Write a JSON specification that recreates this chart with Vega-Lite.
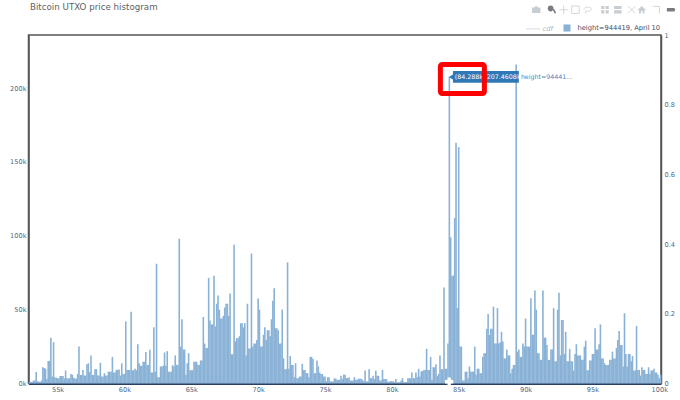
{
  "$schema": "https://vega.github.io/schema/vega-lite/v6.json",
  "autosize": "none",
  "padding": {"left": 28.5, "top": 35, "right": 18.5, "bottom": 16.5},
  "width": 632.5,
  "height": 348.5,
  "background": "#ffffff",
  "title": {
    "text": "Bitcoin UTXO price histogram",
    "anchor": "start",
    "frame": "group",
    "dx": 1.5,
    "offset": -8,
    "font": "DejaVu Sans",
    "fontSize": 8.7,
    "fontWeight": "normal",
    "color": "#5a5f66"
  },
  "config": {
    "view": {"stroke": "#555555", "strokeWidth": 1.5},
    "font": "DejaVu Sans"
  },
  "datasets": {
    "bars": [
      {"p":52900,"n":1000},{"p":53000,"n":1200},{"p":53100,"n":1000},{"p":53200,"n":2000},{"p":53300,"n":2000},{"p":53400,"n":7700},{"p":53500,"n":1500},{"p":53600,"n":1300},{"p":53700,"n":1000},{"p":53800,"n":2000},
      {"p":53900,"n":11000},{"p":54000,"n":10500},{"p":54100,"n":10000},{"p":54200,"n":3000},{"p":54300,"n":15300},{"p":54400,"n":15300},{"p":54500,"n":31000},{"p":54600,"n":4700},{"p":54700,"n":28000},{"p":54800,"n":4000},
      {"p":54900,"n":4000},{"p":55000,"n":3600},{"p":55100,"n":3600},{"p":55200,"n":5000},{"p":55300,"n":5000},{"p":55400,"n":5000},{"p":55500,"n":3500},{"p":55600,"n":8800},{"p":55700,"n":3500},{"p":55800,"n":3500},
      {"p":55900,"n":3500},{"p":56000,"n":6500},{"p":56100,"n":6000},{"p":56200,"n":4000},{"p":56300,"n":3300},{"p":56400,"n":3300},{"p":56500,"n":6500},{"p":56600,"n":25000},{"p":56700,"n":5800},{"p":56800,"n":5800},
      {"p":56900,"n":9200},{"p":57000,"n":5400},{"p":57100,"n":5400},{"p":57200,"n":13000},{"p":57300,"n":13700},{"p":57400,"n":7700},{"p":57500,"n":19000},{"p":57600,"n":5800},{"p":57700,"n":5800},{"p":57800,"n":9700},
      {"p":57900,"n":9700},{"p":58000,"n":5400},{"p":58100,"n":5400},{"p":58200,"n":14000},{"p":58300,"n":4700},{"p":58400,"n":4700},{"p":58500,"n":7000},{"p":58600,"n":5400},{"p":58700,"n":5400},{"p":58800,"n":8000},
      {"p":58900,"n":8000},{"p":59000,"n":8000},{"p":59100,"n":18000},{"p":59200,"n":7400},{"p":59300,"n":7400},{"p":59400,"n":9200},{"p":59500,"n":9200},{"p":59600,"n":9500},{"p":59700,"n":5400},{"p":59800,"n":13700},
      {"p":59900,"n":6500},{"p":60000,"n":6500},{"p":60100,"n":42000},{"p":60200,"n":9200},{"p":60300,"n":9200},{"p":60400,"n":9200},{"p":60500,"n":48500},{"p":60600,"n":9000},{"p":60700,"n":9000},{"p":60800,"n":10000},
      {"p":60900,"n":9000},{"p":61000,"n":26600},{"p":61100,"n":13700},{"p":61200,"n":12000},{"p":61300,"n":12000},{"p":61400,"n":14700},{"p":61500,"n":14700},{"p":61600,"n":21400},{"p":61700,"n":12600},{"p":61800,"n":12600},
      {"p":61900,"n":22800},{"p":62000,"n":7400},{"p":62100,"n":7400},{"p":62200,"n":38000},{"p":62300,"n":8000},{"p":62400,"n":81000},{"p":62500,"n":4300},{"p":62600,"n":4300},{"p":62700,"n":11500},{"p":62800,"n":11500},
      {"p":62900,"n":12000},{"p":63000,"n":21000},{"p":63100,"n":12000},{"p":63200,"n":21900},{"p":63300,"n":8000},{"p":63400,"n":8000},{"p":63500,"n":8000},{"p":63600,"n":12400},{"p":63700,"n":11500},{"p":63800,"n":19000},
      {"p":63900,"n":12600},{"p":64000,"n":12600},{"p":64100,"n":98000},{"p":64200,"n":25000},{"p":64300,"n":43500},{"p":64400,"n":23000},{"p":64500,"n":23000},{"p":64600,"n":6000},{"p":64700,"n":13700},{"p":64800,"n":20500},
      {"p":64900,"n":9000},{"p":65000,"n":9000},{"p":65100,"n":9000},{"p":65200,"n":14700},{"p":65300,"n":14700},{"p":65400,"n":14700},{"p":65500,"n":12600},{"p":65600,"n":12600},{"p":65700,"n":15600},{"p":65800,"n":15600},
      {"p":65900,"n":45000},{"p":66000,"n":27000},{"p":66100,"n":24000},{"p":66200,"n":24000},{"p":66300,"n":71500},{"p":66400,"n":42600},{"p":66500,"n":40000},{"p":66600,"n":40000},{"p":66700,"n":73000},{"p":66800,"n":38600},
      {"p":66900,"n":54000},{"p":67000,"n":59500},{"p":67100,"n":50000},{"p":67200,"n":44000},{"p":67300,"n":44000},{"p":67400,"n":45800},{"p":67500,"n":51400},{"p":67600,"n":54000},{"p":67700,"n":54000},{"p":67800,"n":45800},
      {"p":67900,"n":61000},{"p":68000,"n":19800},{"p":68100,"n":19800},{"p":68200,"n":94000},{"p":68300,"n":28600},{"p":68400,"n":30700},{"p":68500,"n":30700},{"p":68600,"n":32000},{"p":68700,"n":40800},{"p":68800,"n":40800},
      {"p":68900,"n":38000},{"p":69000,"n":40800},{"p":69100,"n":19000},{"p":69200,"n":54000},{"p":69300,"n":23700},{"p":69400,"n":23700},{"p":69500,"n":88000},{"p":69600,"n":25000},{"p":69700,"n":27000},{"p":69800,"n":27000},
      {"p":69900,"n":29500},{"p":70000,"n":57500},{"p":70100,"n":50000},{"p":70200,"n":25000},{"p":70300,"n":25000},{"p":70400,"n":33000},{"p":70500,"n":38000},{"p":70600,"n":29500},{"p":70700,"n":36000},{"p":70800,"n":36000},
      {"p":70900,"n":32000},{"p":71000,"n":43500},{"p":71100,"n":56000},{"p":71200,"n":64500},{"p":71300,"n":37400},{"p":71400,"n":37400},{"p":71500,"n":36000},{"p":71600,"n":27000},{"p":71700,"n":27000},{"p":71800,"n":50000},
      {"p":71900,"n":17000},{"p":72000,"n":9700},{"p":72100,"n":9700},{"p":72200,"n":82000},{"p":72300,"n":10000},{"p":72400,"n":18700},{"p":72500,"n":12600},{"p":72600,"n":12600},{"p":72700,"n":4300},{"p":72800,"n":13700},
      {"p":72900,"n":3600},{"p":73000,"n":3600},{"p":73100,"n":4700},{"p":73200,"n":4700},{"p":73300,"n":13300},{"p":73400,"n":9200},{"p":73500,"n":9200},{"p":73600,"n":7000},{"p":73700,"n":7000},{"p":73800,"n":4300},
      {"p":73900,"n":18000},{"p":74000,"n":18000},{"p":74100,"n":16500},{"p":74200,"n":7000},{"p":74300,"n":7000},{"p":74400,"n":15600},{"p":74500,"n":11500},{"p":74600,"n":7400},{"p":74700,"n":6500},{"p":74800,"n":6500},
      {"p":74900,"n":4700},{"p":75000,"n":4700},{"p":75100,"n":1400},{"p":75200,"n":4300},{"p":75300,"n":4300},{"p":75400,"n":1400},{"p":75500,"n":1400},{"p":75600,"n":1400},{"p":75700,"n":3400},{"p":75800,"n":3400},
      {"p":75900,"n":2500},{"p":76000,"n":2500},{"p":76100,"n":2500},{"p":76200,"n":5200},{"p":76300,"n":3000},{"p":76400,"n":6000},{"p":76500,"n":6000},{"p":76600,"n":3600},{"p":76700,"n":3600},{"p":76800,"n":4300},
      {"p":76900,"n":2000},{"p":77000,"n":2000},{"p":77100,"n":2000},{"p":77200,"n":4300},{"p":77300,"n":2500},{"p":77400,"n":2500},{"p":77500,"n":3200},{"p":77600,"n":3200},{"p":77700,"n":3200},{"p":77800,"n":2500},
      {"p":77900,"n":1500},{"p":78000,"n":8800},{"p":78100,"n":1400},{"p":78200,"n":1400},{"p":78300,"n":9700},{"p":78400,"n":3600},{"p":78500,"n":3600},{"p":78600,"n":5200},{"p":78700,"n":3000},{"p":78800,"n":8600},
      {"p":78900,"n":5200},{"p":79000,"n":5200},{"p":79100,"n":2000},{"p":79200,"n":2000},{"p":79300,"n":9200},{"p":79400,"n":3000},{"p":79500,"n":3000},{"p":79600,"n":3000},{"p":79700,"n":1100},{"p":79800,"n":1100},
      {"p":79900,"n":1600},{"p":80000,"n":1600},{"p":80100,"n":1600},{"p":80200,"n":700},{"p":80300,"n":3000},{"p":80400,"n":700},{"p":80500,"n":700},{"p":80600,"n":700},{"p":80700,"n":2000},{"p":80800,"n":3600},
      {"p":80900,"n":900},{"p":81000,"n":900},{"p":81100,"n":900},{"p":81200,"n":3600},{"p":81300,"n":3600},{"p":81400,"n":3600},{"p":81500,"n":7400},{"p":81600,"n":3600},{"p":81700,"n":3600},{"p":81800,"n":7400},
      {"p":81900,"n":4300},{"p":82000,"n":10000},{"p":82100,"n":4700},{"p":82200,"n":8300},{"p":82300,"n":8300},{"p":82400,"n":9200},{"p":82500,"n":9200},{"p":82600,"n":23500},{"p":82700,"n":9200},{"p":82800,"n":9200},
      {"p":82900,"n":18000},{"p":83000,"n":2500},{"p":83100,"n":11000},{"p":83200,"n":11000},{"p":83300,"n":13000},{"p":83400,"n":5200},{"p":83500,"n":6500},{"p":83600,"n":19000},{"p":83700,"n":9700},{"p":83800,"n":9700},
      {"p":83900,"n":65000},{"p":84000,"n":10000},{"p":84100,"n":10000},{"p":84200,"n":27000},{"p":84300,"n":207461},{"p":84400,"n":99000},{"p":84500,"n":73000},{"p":84600,"n":73000},{"p":84700,"n":112000},{"p":84800,"n":163000},
      {"p":84900,"n":51000},{"p":85000,"n":160000},{"p":85100,"n":25000},{"p":85200,"n":25000},{"p":85300,"n":2000},{"p":85400,"n":2000},{"p":85500,"n":8000},{"p":85600,"n":8000},{"p":85700,"n":3600},{"p":85800,"n":11500},
      {"p":85900,"n":8000},{"p":86000,"n":8000},{"p":86100,"n":8000},{"p":86200,"n":25000},{"p":86300,"n":6000},{"p":86400,"n":10000},{"p":86500,"n":10000},{"p":86600,"n":7000},{"p":86700,"n":7000},{"p":86800,"n":18000},
      {"p":86900,"n":20500},{"p":87000,"n":20500},{"p":87100,"n":37000},{"p":87200,"n":47000},{"p":87300,"n":33000},{"p":87400,"n":37000},{"p":87500,"n":37000},{"p":87600,"n":52000},{"p":87700,"n":27000},{"p":87800,"n":27000},
      {"p":87900,"n":51000},{"p":88000,"n":27000},{"p":88100,"n":28000},{"p":88200,"n":35000},{"p":88300,"n":28400},{"p":88400,"n":17000},{"p":88500,"n":17000},{"p":88600,"n":23000},{"p":88700,"n":19000},{"p":88800,"n":19000},
      {"p":88900,"n":7000},{"p":89000,"n":10000},{"p":89100,"n":12600},{"p":89200,"n":12600},{"p":89300,"n":216000},{"p":89400,"n":21600},{"p":89500,"n":23000},{"p":89600,"n":18000},{"p":89700,"n":18000},{"p":89800,"n":27000},
      {"p":89900,"n":25000},{"p":90000,"n":44000},{"p":90100,"n":25000},{"p":90200,"n":25000},{"p":90300,"n":25000},{"p":90400,"n":57700},{"p":90500,"n":33000},{"p":90600,"n":33000},{"p":90700,"n":63000},{"p":90800,"n":50000},
      {"p":90900,"n":20500},{"p":91000,"n":20500},{"p":91100,"n":16000},{"p":91200,"n":16000},{"p":91300,"n":63000},{"p":91400,"n":31000},{"p":91500,"n":31000},{"p":91600,"n":26000},{"p":91700,"n":16000},{"p":91800,"n":16000},
      {"p":91900,"n":23000},{"p":92000,"n":23000},{"p":92100,"n":51000},{"p":92200,"n":15000},{"p":92300,"n":15000},{"p":92400,"n":50000},{"p":92500,"n":61500},{"p":92600,"n":19000},{"p":92700,"n":43000},{"p":92800,"n":43000},
      {"p":92900,"n":20000},{"p":93000,"n":35000},{"p":93100,"n":15000},{"p":93200,"n":15000},{"p":93300,"n":23500},{"p":93400,"n":15000},{"p":93500,"n":15000},{"p":93600,"n":8800},{"p":93700,"n":20000},{"p":93800,"n":26600},
      {"p":93900,"n":19000},{"p":94000,"n":19000},{"p":94100,"n":19000},{"p":94200,"n":16000},{"p":94300,"n":16000},{"p":94400,"n":25000},{"p":94500,"n":29000},{"p":94600,"n":9000},{"p":94700,"n":9000},{"p":94800,"n":15600},
      {"p":94900,"n":15600},{"p":95000,"n":20000},{"p":95100,"n":20000},{"p":95200,"n":37400},{"p":95300,"n":23000},{"p":95400,"n":23000},{"p":95500,"n":26600},{"p":95600,"n":40000},{"p":95700,"n":17000},{"p":95800,"n":17000},
      {"p":95900,"n":13700},{"p":96000,"n":12600},{"p":96100,"n":12600},{"p":96200,"n":12600},{"p":96300,"n":16000},{"p":96400,"n":16000},{"p":96500,"n":21600},{"p":96600,"n":17000},{"p":96700,"n":17000},{"p":96800,"n":24000},
      {"p":96900,"n":29500},{"p":97000,"n":35600},{"p":97100,"n":26000},{"p":97200,"n":26000},{"p":97300,"n":11500},{"p":97400,"n":47600},{"p":97500,"n":20000},{"p":97600,"n":11500},{"p":97700,"n":20000},{"p":97800,"n":20000},
      {"p":97900,"n":15000},{"p":98000,"n":18700},{"p":98100,"n":8800},{"p":98200,"n":8800},{"p":98300,"n":39000},{"p":98400,"n":9200},{"p":98500,"n":9200},{"p":98600,"n":5400},{"p":98700,"n":11000},{"p":98800,"n":9200},
      {"p":98900,"n":9200},{"p":99000,"n":6500},{"p":99100,"n":6500},{"p":99200,"n":11000},{"p":99300,"n":6500},{"p":99400,"n":8800},{"p":99500,"n":8800},{"p":99600,"n":10000},{"p":99700,"n":7400},{"p":99800,"n":7400},
      {"p":99900,"n":5900},{"p":100000,"n":3600},{"p":100100,"n":6000}
    ],
    "cdf": [{"p":52900,"c":0},{"p":100100,"c":1}],
    "icons": [
      {"p":90800,"n":253000,"icon":"camera","group":"solid"},
      {"p":91970,"n":253000,"icon":"zoom","group":"dark"},
      {"p":92850,"n":253000,"icon":"pan","group":"line"},
      {"p":93730,"n":253000,"icon":"box","group":"line"},
      {"p":94650,"n":253000,"icon":"lasso","group":"line"},
      {"p":95940,"n":253000,"icon":"zoomin","group":"solid"},
      {"p":96900,"n":253000,"icon":"zoomout","group":"solid"},
      {"p":97940,"n":253000,"icon":"autoscale","group":"line"},
      {"p":98690,"n":253000,"icon":"home","group":"solid"},
      {"p":99830,"n":253000,"icon":"spikes","group":"line"},
      {"p":100880,"n":253000,"icon":"hover","group":"dark"}
    ],
    "hoverbox": [{"p":84570,"p2":89500,"n":203500,"n2":211600}],
    "hoverpoint": [{"p":84430,"n":207461}],
    "hovertext": [{"p":84700,"n":207461,"t":"(84.288k, 207.4608k)"}],
    "hovername": [{"p":89650,"n":207461,"t":"height=94441..."}],
    "spike": [{"p":84288,"n":1200}],
    "callout": [{"p":83630,"p2":86920,"n":196300,"n2":216000}]
  },
  "layer": [
    {
      "encoding": {
        "x": {
          "field": "p",
          "type": "quantitative",
          "scale": {"domain": [52825, 100130], "nice": false, "zero": false, "padding": 0},
          "title": null,
          "axis": {
            "values": [55000, 60000, 65000, 70000, 75000, 80000, 85000, 90000, 95000, 100000],
            "format": "~s",
            "grid": false,
            "ticks": false,
            "labelPadding": 3,
            "labelFontSize": 6.6,
            "labelColor": "#506784",
            "labelFont": "DejaVu Sans",
            "domainColor": "#2a3f5f",
            "domainWidth": 2
          }
        },
        "y": {
          "field": "n",
          "type": "quantitative",
          "stack": null,
          "scale": {"domain": [0, 235900], "nice": false},
          "title": null,
          "axis": {
            "values": [0, 50000, 100000, 150000, 200000],
            "format": "~s",
            "grid": false,
            "ticks": false,
            "labelPadding": 2.5,
            "labelFontSize": 6.6,
            "labelColor": "#506784",
            "labelFont": "DejaVu Sans",
            "domainColor": "#555555",
            "domainWidth": 1.5
          }
        }
      },
      "layer": [
        {
          "data": {"name": "bars"},
          "mark": {"type": "bar", "orient": "vertical", "size": 1.6},
          "encoding": {
            "color": {
              "datum": "height=944419, April 10",
              "type": "nominal",
              "scale": {
                "domain": ["cdf", "height=944419, April 10"],
                "range": ["#d5dbe0", "#8ab2d6"]
              },
              "legend": {
                "title": null,
                "orient": "none",
                "direction": "horizontal",
                "legendX": 499,
                "legendY": -12,
                "labelFont": "DejaVu Sans",
                "labelFontSize": 6.7,
                "labelColor": "#3f4a63",
                "symbolSize": 50,
                "columnPadding": 7,
                "labelOffset": 6,
                "encode": {
                  "symbols": {"update": {
                    "shape": {"signal": "datum.value == 'cdf' ? 'M-1.7,0H2.4' : 'square'"},
                    "stroke": {"signal": "datum.value == 'cdf' ? '#d5dbe0' : 'transparent'"},
                    "strokeWidth": {"value": 1}
                  }},
                  "labels": {"update": {
                    "fontStyle": {"signal": "datum.value == 'cdf' ? 'italic' : 'normal'"},
                    "fill": {"signal": "datum.value == 'cdf' ? '#aeb4bb' : '#3f4a63'"}
                  }}
                }
              }
            }
          }
        },
        {"data": {"name": "spike"}, "mark": {"type": "point", "shape": "cross", "filled": true, "color": "#ffffff", "size": 70, "opacity": 1}},
        {"data": {"name": "hoverbox"}, "mark": {"type": "rect", "color": "#2f78b7"}, "encoding": {"x2": {"field": "p2"}, "y2": {"field": "n2"}}},
        {"data": {"name": "hoverpoint"}, "mark": {"type": "point", "shape": "triangle-left", "filled": true, "color": "#2f78b7", "size": 30, "opacity": 1}},
        {"data": {"name": "hovertext"}, "mark": {"type": "text", "align": "left", "baseline": "middle", "font": "DejaVu Sans", "fontSize": 6.3, "color": "#ffffff"}, "encoding": {"text": {"field": "t"}}},
        {"data": {"name": "hovername"}, "mark": {"type": "text", "align": "left", "baseline": "middle", "font": "DejaVu Sans", "fontSize": 6.3, "color": "#4a86c0"}, "encoding": {"text": {"field": "t"}}},
        {"data": {"name": "callout"}, "mark": {"type": "rect", "fill": null, "fillOpacity": 0, "stroke": "#ff0000", "strokeWidth": 5, "cornerRadius": 2}, "encoding": {"x2": {"field": "p2"}, "y2": {"field": "n2"}}},
        {
          "data": {"name": "icons"},
          "transform": [{"filter": "datum.group == 'solid'"}],
          "mark": {"type": "point", "filled": true, "color": "#c8cdd2", "size": 70, "opacity": 1, "strokeWidth": 0},
          "encoding": {
            "shape": {
              "field": "icon",
              "type": "nominal",
              "legend": null,
              "scale": {
                "domain": ["camera", "zoomin", "zoomout", "home"],
                "range": [
                  "M-1,-0.55H-0.45L-0.25,-0.85H0.25L0.45,-0.55H1V0.8H-1Z",
                  "M-0.9,-0.9H-0.15V-0.15H-0.9Z M0.15,-0.9H0.9V-0.15H0.15Z M-0.9,0.15H-0.15V0.9H-0.9Z M0.15,0.15H0.9V0.9H0.15Z",
                  "M-0.9,-0.9H0.9V-0.15H-0.9Z M-0.9,0.15H0.9V0.9H-0.9Z",
                  "M0,-0.9L1,0.05H0.65V0.9H0.2V0.3H-0.2V0.9H-0.65V0.05H-1Z"
                ]
              }
            }
          }
        },
        {
          "data": {"name": "icons"},
          "transform": [{"filter": "datum.group == 'line'"}],
          "mark": {"type": "point", "filled": false, "color": "#cfd3d8", "size": 70, "opacity": 1, "strokeWidth": 0.9},
          "encoding": {
            "shape": {
              "field": "icon",
              "type": "nominal",
              "legend": null,
              "scale": {
                "domain": ["pan", "box", "lasso", "autoscale", "spikes"],
                "range": [
                  "M-1,0H1M0,-1V1",
                  "M-0.9,-0.9H0.9V0.9H-0.9Z",
                  "M-0.9,-0.1C-0.9,-0.8 0.9,-0.8 0.9,-0.1C0.9,0.4 -0.2,0.5 -0.4,0.2L-0.6,0.9",
                  "M-0.9,-0.9L0.9,0.9M-0.9,0.9L0.9,-0.9",
                  "M-0.9,-0.8H0.6V0.9"
                ]
              }
            }
          }
        },
        {
          "data": {"name": "icons"},
          "transform": [{"filter": "datum.group == 'dark'"}],
          "mark": {"type": "point", "filled": true, "color": "#777c83", "size": 70, "opacity": 1, "strokeWidth": 0},
          "encoding": {
            "shape": {
              "field": "icon",
              "type": "nominal",
              "legend": null,
              "scale": {
                "domain": ["zoom", "hover"],
                "range": [
                  "M-0.3,-1A0.7,0.7 0 1 1 -0.3,0.4A0.7,0.7 0 1 1 -0.3,-1Z M0.25,0.05L0.55,-0.2L1,0.7L0.7,0.95Z",
                  "M-1,-0.4H0.8L1,0L0.8,0.4H-1Z"
                ]
              }
            }
          }
        }
      ],
      "resolve": {"scale": {"shape": "independent"}}
    },
    {
      "data": {"name": "cdf"},
      "mark": {"type": "line", "opacity": 0},
      "encoding": {
        "x": {"field": "p", "type": "quantitative", "scale": {"domain": [52825, 100130], "nice": false, "zero": false, "padding": 0}},
        "y": {
          "field": "c",
          "type": "quantitative",
          "scale": {"domain": [0, 1], "nice": false},
          "title": null,
          "axis": {
            "orient": "right",
            "values": [0, 0.2, 0.4, 0.6, 0.8, 1],
            "format": "~g",
            "grid": false,
            "ticks": false,
            "labelPadding": 3,
            "labelFontSize": 6.6,
            "labelColor": "#506784",
            "labelFont": "DejaVu Sans",
            "domainColor": "#555555",
            "domainWidth": 1.5
          }
        }
      }
    }
  ],
  "resolve": {"scale": {"y": "independent"}, "axis": {"y": "independent"}}
}
